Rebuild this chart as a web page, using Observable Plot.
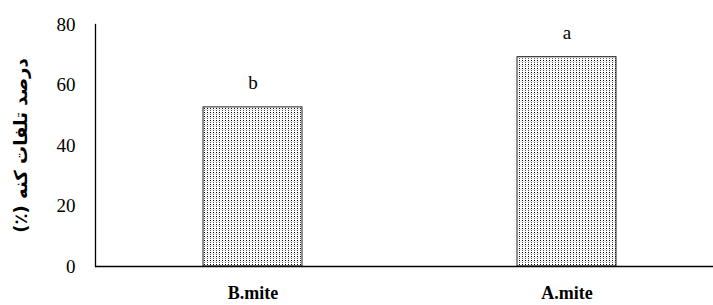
<!DOCTYPE html>
<html><head><meta charset="utf-8">
<script src="https://cdn.jsdelivr.net/npm/d3@7"></script>
<script src="https://cdn.jsdelivr.net/npm/@observablehq/plot@0.6"></script>
<style>
body{margin:0;background:#fff}
#chart svg text{font-family:'Liberation Serif',serif !important}
#chart svg text.fa{font-family:'DejaVu Sans',sans-serif !important}
</style>
</head><body><div id="chart"></div>
<script>
const categories = ["B.mite", "A.mite"];
const values = [52.6, 69.2];
const letters = ["b", "a"];
const yTicks = [0, 20, 40, 60, 80];
const yTitle = "درصد تلفات کنه (٪)";

const data = categories.map((c, i) => ({cat: c, v: values[i], letter: letters[i]}));

const chart = Plot.plot({
  width: 713, height: 305,
  marginLeft: 95, marginRight: 0, marginTop: 24, marginBottom: 39,
  style: {fontSize: "19px", color: "#000", background: "#fff"},
  x: {domain: categories, range: [95, 723], paddingInner: 0.685, paddingOuter: 0.3425, label: null},
  y: {domain: [0, 80], range: [266, 24], ticks: yTicks, label: null},
  marks: [
    Plot.barY(data, {x: "cat", y: "v", fill: "url(#dots)", stroke: "#222", strokeWidth: 1}),
    Plot.text(data, {x: "cat", y: "v", text: "letter", dy: -24, fontSize: 19, fill: "#000"}),
    Plot.axisY({ticks: yTicks, tickSize: 0, tickPadding: 20, label: null, fontSize: 19}),
    Plot.frame({anchor: "left", stroke: "#000", strokeWidth: 1.3}),
    Plot.ruleY([0], {stroke: "#000", strokeWidth: 1.5}),
    Plot.axisX({tickSize: 0, tickPadding: 20, label: null, fontSize: 18, fontWeight: "bold"}),
    Plot.text([yTitle + "\u200F"], {frameAnchor: "left", dx: -74, rotate: -90, textAnchor: "middle",
      fontSize: 18, fontWeight: "bold", fill: "#000"})
  ]
});

const svgNS = "http://www.w3.org/2000/svg";
const defs = document.createElementNS(svgNS, "defs");
defs.innerHTML = `<pattern id="dots" patternUnits="userSpaceOnUse" width="3" height="4">
  <rect width="3" height="4" fill="#fff"/>
  <rect x="0" y="0" width="1" height="1" fill="#000"/>
  <rect x="0" y="2" width="1" height="1" fill="#555"/>
  <rect x="1.6" y="1" width="0.8" height="0.8" fill="#aaa"/>
</pattern>`;
chart.insertBefore(defs, chart.firstChild);
chart.querySelectorAll("text").forEach(t => {
  if (t.textContent.includes("درصد")) t.classList.add("fa");
});
document.getElementById("chart").appendChild(chart);
</script></body></html>
